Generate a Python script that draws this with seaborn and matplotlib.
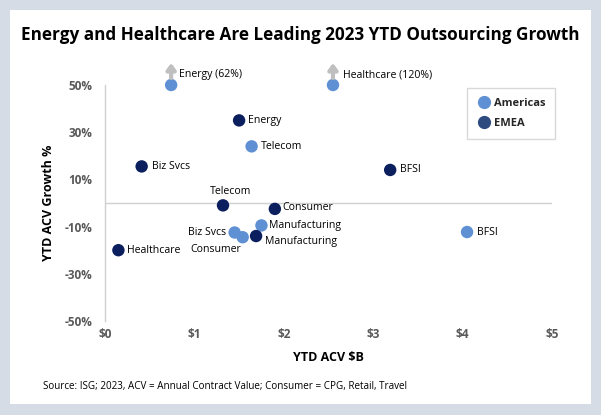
import matplotlib
matplotlib.use("Agg")
import matplotlib.pyplot as plt
import seaborn as sns
import pandas as pd
from matplotlib.lines import Line2D
from matplotlib.patches import Rectangle
from matplotlib.transforms import offset_copy

# data (growth capped at 50% for display)
amer_sectors = ["Energy (62%)", "Healthcare (120%)", "Telecom", "Manufacturing", "Biz Svcs", "Consumer", "BFSI"]
amer_acv = [0.74, 2.55, 1.64, 1.75, 1.45, 1.54, 4.05]
amer_growth = [50, 50, 24, -9.5, -12.5, -14.5, -12.3]

emea_sectors = ["Energy", "Biz Svcs", "BFSI", "Telecom", "Consumer", "Manufacturing", "Healthcare"]
emea_acv = [1.50, 0.41, 3.19, 1.32, 1.90, 1.69, 0.15]
emea_growth = [35, 15.5, 14, -1, -2.5, -14, -20]

capped = ["Energy (62%)", "Healthcare (120%)"]

y_ticks = [-50, -30, -10, 10, 30, 50]
x_ticks = [0, 1, 2, 3, 4, 5]

amer_color = "#6090D4"
emea_color = "#0B1F5E"

df = pd.concat([
    pd.DataFrame({"sector": amer_sectors, "acv": amer_acv, "growth": amer_growth, "region": "Americas"}),
    pd.DataFrame({"sector": emea_sectors, "acv": emea_acv, "growth": emea_growth, "region": "EMEA"}),
], ignore_index=True)

sns.set_theme(style="white")
plt.rcParams["font.family"] = ["Open Sans", "DejaVu Sans"]

W, H = 601, 415
fig = plt.figure(figsize=(W / 100, H / 100), dpi=100)
fig.patch.set_facecolor("#D6DCE6")
fig.patches.append(Rectangle((10 / W, 11 / H), 581 / W, 394 / H, transform=fig.transFigure,
                             facecolor="white", edgecolor="none", zorder=-5))

ax = fig.add_axes([105 / W, 1 - 321 / H, 447 / W, 236 / H])
ax.set_facecolor("none")

sns.scatterplot(data=df, x="acv", y="growth", hue="region",
                palette={"Americas": amer_color, "EMEA": emea_color},
                s=80, edgecolor="none", legend=False, ax=ax, clip_on=False, zorder=3)

ax.set_xlim(0, 5)
ax.set_ylim(-50, 50)
ax.axhline(0, color="#D0D0D0", lw=1, zorder=1)

for s in ["top", "right", "bottom"]:
    ax.spines[s].set_visible(False)
ax.spines["left"].set_color("#D0D0D0")
ax.spines["left"].set_linewidth(1)

ax.set_xticks(x_ticks)
ax.set_xticklabels([f"${v}" for v in x_ticks])
ax.set_yticks(y_ticks)
ax.set_yticklabels([f"{v}%" for v in y_ticks])
ax.tick_params(axis="both", length=0, labelsize=8.5, labelcolor="#595959")
ax.tick_params(axis="y", pad=9)
ax.tick_params(axis="x", pad=5)
for t in ax.get_xticklabels() + ax.get_yticklabels():
    t.set_fontweight("bold")

ax.set_xlabel("YTD ACV $B", fontsize=9, fontweight="bold", color="black")
ax.set_ylabel("YTD ACV Growth %", fontsize=9, fontweight="bold", color="black")
ax.xaxis.set_label_coords(0.5, -0.128)
ax.yaxis.set_label_coords(-0.112, 0.5)

# label offsets in pixels (dx, dy, ha)
offsets = {
    ("Americas", "Energy (62%)"): (8, 10, "left"),
    ("Americas", "Healthcare (120%)"): (10, 10, "left"),
    ("Americas", "Telecom"): (9, 0, "left"),
    ("Americas", "Manufacturing"): (8, 0, "left"),
    ("Americas", "Biz Svcs"): (-9, 0, "right"),
    ("Americas", "Consumer"): (-2, -12, "right"),
    ("Americas", "BFSI"): (10, 0, "left"),
    ("EMEA", "Energy"): (9, 0, "left"),
    ("EMEA", "Biz Svcs"): (10, 0, "left"),
    ("EMEA", "BFSI"): (10, 0, "left"),
    ("EMEA", "Telecom"): (8, 14, "center"),
    ("EMEA", "Consumer"): (8, 1, "left"),
    ("EMEA", "Manufacturing"): (9, -5, "left"),
    ("EMEA", "Healthcare"): (9, 0, "left"),
}
for _, r in df.iterrows():
    dx, dy, ha = offsets[(r["region"], r["sector"])]
    ax.annotate(r["sector"], (r["acv"], r["growth"]), xytext=(dx, dy),
                textcoords="offset pixels", ha=ha, va="center", fontsize=7.6,
                color="black", annotation_clip=False, zorder=4)

# gray up-arrows above the capped points
t0 = offset_copy(ax.transData, fig=fig, x=0, y=7, units="dots")
t1 = offset_copy(ax.transData, fig=fig, x=0, y=22, units="dots")
for sec, x, y in zip(amer_sectors, amer_acv, amer_growth):
    if sec in capped:
        ax.annotate("", xy=(x, y), xycoords=t1, xytext=(x, y), textcoords=t0,
                    annotation_clip=False,
                    arrowprops=dict(arrowstyle="-|>,head_width=0.22,head_length=0.3",
                                    color="#BFBFBF", lw=3, shrinkA=0, shrinkB=0))

handles = [Line2D([], [], marker="o", ls="", markersize=8.5, color=amer_color, label="Americas"),
           Line2D([], [], marker="o", ls="", markersize=8.5, color="#2E4B80", label="EMEA")]
leg = ax.legend(handles=handles, loc="upper left", bbox_to_anchor=(467 / W, 1 - 88 / H),
                bbox_transform=fig.transFigure, frameon=True, fancybox=False, borderaxespad=0,
                prop={"weight": "bold", "size": 8}, handletextpad=0.3,
                borderpad=0.9, labelspacing=0.8, handlelength=1.2)
leg.get_frame().set_edgecolor("#D0D0D0")
leg.get_frame().set_linewidth(1)

fig.text(300 / W, 1 - 35 / H, "Energy and Healthcare Are Leading 2023 YTD Outsourcing Growth",
         ha="center", va="center", fontsize=12.3, fontweight="bold", color="black")
fig.text(43 / W, 1 - 386 / H, "Source: ISG; 2023, ACV = Annual Contract Value; Consumer = CPG, Retail, Travel",
         ha="left", va="center", fontsize=7.1, color="black")

fig.savefig("out.png", dpi=100, facecolor=fig.get_facecolor())
